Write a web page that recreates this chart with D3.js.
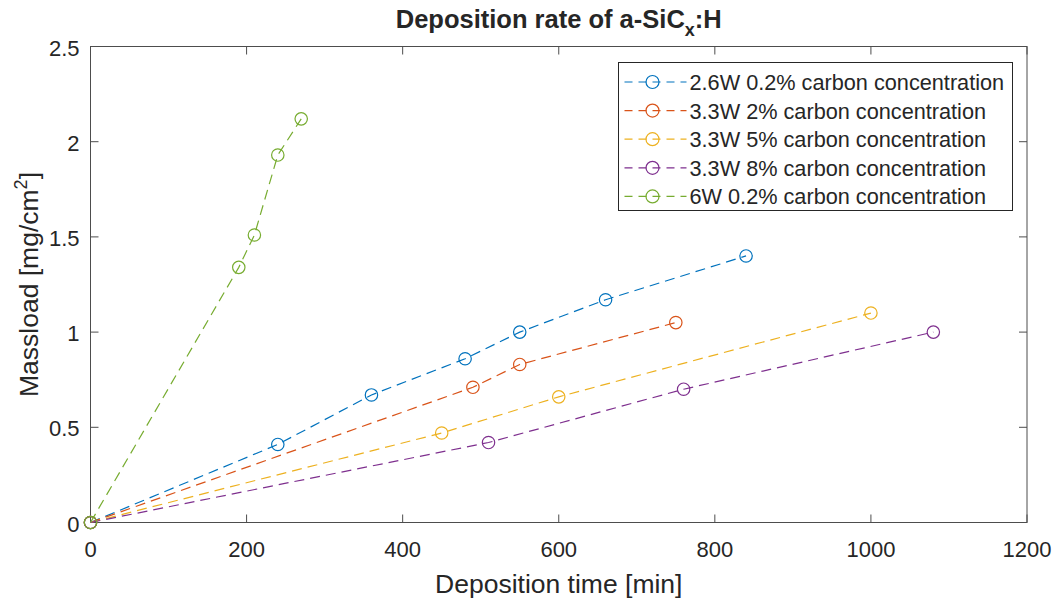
<!DOCTYPE html>
<html>
<head>
<meta charset="utf-8">
<script src="https://cdn.jsdelivr.net/npm/d3@7"></script>
<style>
  body { margin: 0; background: #fff; }
  text { font-family: "Liberation Sans", Arial, Helvetica, sans-serif; fill: #262626; }
</style>
</head>
<body>
<div id="chart"></div>
<script>
const W = 1059, H = 605;
const margin = {top: 46.5, right: 32, bottom: 82.5, left: 90.5},
      width = W - margin.left - margin.right,
      height = H - margin.top - margin.bottom;

const seriesNames = ["2.6W 0.2% carbon concentration",
                     "3.3W 2% carbon concentration",
                     "3.3W 5% carbon concentration",
                     "3.3W 8% carbon concentration",
                     "6W 0.2% carbon concentration"];
const colors = ["#0072BD", "#D95319", "#EDB120", "#7E2F8E", "#77AC30"];

// deposition time [min]
const time26W02 = [0, 240, 360, 480, 550, 660, 840];
const time33W2  = [0, 490, 550, 750];
const time33W5  = [0, 450, 600, 1000];
const time33W8  = [0, 510, 760, 1080];
const time6W02  = [0, 190, 210, 240, 270];
// massload [mg/cm^2]
const mass26W02 = [0, 0.41, 0.67, 0.86, 1.00, 1.17, 1.40];
const mass33W2  = [0, 0.71, 0.83, 1.05];
const mass33W5  = [0, 0.47, 0.66, 1.10];
const mass33W8  = [0, 0.42, 0.70, 1.00];
const mass6W02  = [0, 1.34, 1.51, 1.93, 2.12];

const xTicks = [0, 200, 400, 600, 800, 1000, 1200];
const yTicks = [0, 0.5, 1, 1.5, 2, 2.5];

const times = [time26W02, time33W2, time33W5, time33W8, time6W02];
const masses = [mass26W02, mass33W2, mass33W5, mass33W8, mass6W02];
const series = seriesNames.map((name, i) => ({
  name: name,
  color: colors[i],
  points: times[i].map((t, j) => ({x: t, y: masses[i][j]}))
}));

const svg = d3.select("#chart").append("svg")
  .attr("width", W).attr("height", H);

const g = svg.append("g")
  .attr("transform", `translate(${margin.left},${margin.top})`);

const x = d3.scaleLinear().domain([0, 1200]).range([0, width]);
const y = d3.scaleLinear().domain([0, 2.5]).range([height, 0]);

const axisColor = "#4d4d4d";
const tickLen = 8;

// box
g.append("rect")
  .attr("width", width).attr("height", height)
  .attr("fill", "none").attr("stroke", axisColor).attr("stroke-width", 1);

// ticks (inward, on all four sides)
const ax = g.append("g").attr("stroke", axisColor).attr("stroke-width", 1);
xTicks.forEach(t => {
  ax.append("line").attr("x1", x(t)).attr("x2", x(t)).attr("y1", height).attr("y2", height - tickLen);
  ax.append("line").attr("x1", x(t)).attr("x2", x(t)).attr("y1", 0).attr("y2", tickLen);
});
yTicks.forEach(t => {
  ax.append("line").attr("y1", y(t)).attr("y2", y(t)).attr("x1", 0).attr("x2", tickLen);
  ax.append("line").attr("y1", y(t)).attr("y2", y(t)).attr("x1", width).attr("x2", width - tickLen);
});

// tick labels
g.selectAll("text.xt").data(xTicks).join("text")
  .attr("class", "xt")
  .attr("x", d => x(d)).attr("y", height + 34)
  .attr("text-anchor", "middle")
  .style("font-size", "22px")
  .text(d => d);

g.selectAll("text.yt").data(yTicks).join("text")
  .attr("class", "yt")
  .attr("x", -11).attr("y", d => y(d) + 9)
  .attr("text-anchor", "end")
  .style("font-size", "22px")
  .text(d => d);

// axis labels
g.append("text")
  .attr("x", width / 2).attr("y", height + 70)
  .attr("text-anchor", "middle")
  .style("font-size", "26.5px")
  .text("Deposition time [min]");

const yl = g.append("text")
  .attr("transform", `translate(-53,${height / 2}) rotate(-90)`)
  .attr("text-anchor", "middle")
  .style("font-size", "26.5px");
yl.append("tspan").text("Massload [mg/cm");
yl.append("tspan").attr("dy", -11).style("font-size", "18px").text("2");
yl.append("tspan").attr("dy", 11).text("]");

// title
const title = svg.append("text")
  .attr("x", margin.left + width / 2).attr("y", 28)
  .attr("text-anchor", "middle")
  .style("font-size", "25.5px").style("font-weight", "bold");
title.append("tspan").text("Deposition rate of a-SiC");
title.append("tspan").attr("dy", 8).style("font-size", "18px").text("x");
title.append("tspan").attr("dy", -8).text(":H");

// lines & markers
const line = d3.line().x(d => x(d.x)).y(d => y(d.y));

series.forEach(s => {
  g.append("path")
    .datum(s.points)
    .attr("d", line)
    .attr("fill", "none")
    .attr("stroke", s.color)
    .attr("stroke-width", 1.2)
    .attr("stroke-dasharray", "10,6");
  g.selectAll(null).data(s.points).join("circle")
    .attr("cx", d => x(d.x)).attr("cy", d => y(d.y))
    .attr("r", 6.2)
    .attr("fill", "none")
    .attr("stroke", s.color)
    .attr("stroke-width", 1.2);
});

// legend
const lg = svg.append("g").attr("transform", "translate(618.5,62.5)");
lg.append("rect")
  .attr("width", 394).attr("height", 148)
  .attr("fill", "#fff").attr("stroke", "#262626").attr("stroke-width", 1);

series.forEach((s, i) => {
  const ly = 19.5 + i * 28.6;
  lg.append("line")
    .attr("x1", 6).attr("x2", 68).attr("y1", ly).attr("y2", ly)
    .attr("stroke", s.color).attr("stroke-width", 1.2)
    .attr("stroke-dasharray", "8,6");
  lg.append("circle")
    .attr("cx", 34).attr("cy", ly).attr("r", 6.5)
    .attr("fill", "none").attr("stroke", s.color).attr("stroke-width", 1.2);
  lg.append("text")
    .attr("x", 71).attr("y", ly + 8)
    .style("font-size", "21.7px")
    .text(s.name);
});
</script>
</body>
</html>
